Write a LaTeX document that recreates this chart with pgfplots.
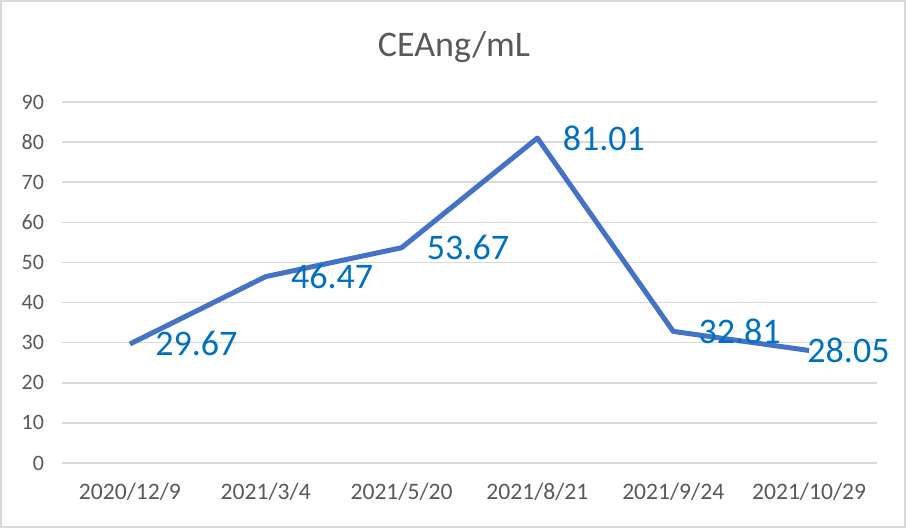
\documentclass[border=0pt]{standalone}
\usepackage{pgfplots}
\pgfplotsset{compat=1.18}
\usepackage{fontspec}
\setmainfont{Carlito}
\definecolor{linec}{HTML}{4472C4}
\definecolor{labc}{HTML}{0070C0}
\definecolor{gridc}{HTML}{D9D9D9}
\definecolor{textc}{HTML}{595959}
\begin{document}
\begin{tikzpicture}
  \draw[gridc, line width=1pt] (0.5pt,0.5pt) rectangle (452.5pt,263.5pt);
  \begin{axis}[
      at={(31pt,32.5pt)}, anchor=south west,
      scale only axis,
      width=407.5pt, height=180.5pt,
      xmin=-0.5, xmax=5.5,
      ymin=0, ymax=90,
      xtick={0,...,5},
      xticklabels={2020/12/9, 2021/3/4, 2021/5/20, 2021/8/21, 2021/9/24, 2021/10/29},
      ytick={0,10,...,90},
      major tick length=0pt,
      extra x ticks={-0.5,0.5,...,5.5},
      extra x tick labels={},
      extra x tick style={grid=none, tick align=outside, major tick length=4.5pt,
        tick style={gridc, line width=0.75pt}},
      ymajorgrids,
      grid style={gridc, line width=0.75pt},
      axis y line=left,
      axis x line=bottom,
      y axis line style={draw=none},
      x axis line style={gridc, line width=0.75pt, -},
      tick style={draw=none},
      tick label style={text=textc},
      xticklabel style={font=\fontsize{11.8}{14}\selectfont, yshift=-6.5pt},
      yticklabel style={font=\fontsize{11}{13}\selectfont, xshift=-5.5pt},
      /pgf/number format/assume math mode=true,
      title={CEAng/mL},
      every axis title shift=0pt,
      title style={at={(0.481,1.127)}, anchor=base,
        font=\fontsize{18}{21}\selectfont, text=textc},
      clip=false,
    ]
    \addplot[linec, line width=2.5pt, line join=round] coordinates {
      (0,29.67) (1,46.47) (2,53.67) (3,81.01) (4,32.81) (5,28.05)
    };
    \addplot[draw=none, nodes near coords={\pgfmathprintnumber[fixed,fixed zerofill,precision=2]{\pgfplotspointmeta}},
      every node near coord/.append style={anchor=west, inner sep=0pt, xshift=12.5pt,
        font=\fontsize{18}{21}\selectfont, text=labc}] coordinates {
      (0,29.67) (1,46.47) (2,53.67) (3,81.01) (4,32.81)
    };
    \addplot[draw=none, nodes near coords={\pgfmathprintnumber[fixed,fixed zerofill,precision=2]{\pgfplotspointmeta}},
      every node near coord/.append style={anchor=west, inner sep=0pt, xshift=-1pt,
        font=\fontsize{18}{21}\selectfont, text=labc}] coordinates {
      (5,28.05)
    };
  \end{axis}
\end{tikzpicture}
\end{document}
